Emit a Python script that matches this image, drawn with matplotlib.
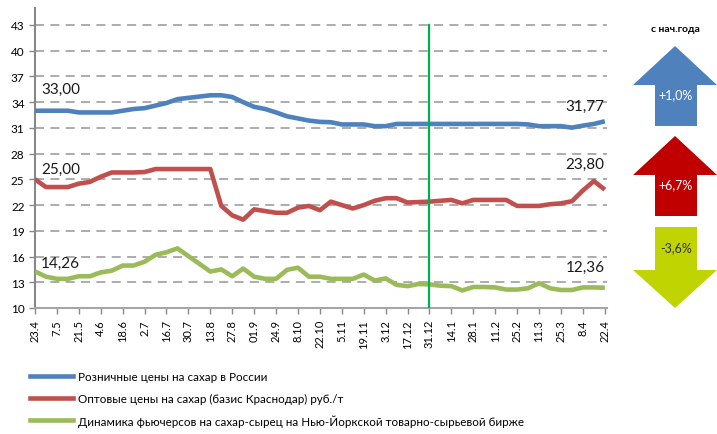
#=========================================================================
# plot.py
#=========================================================================
# Sugar prices: retail, wholesale and NY raw sugar futures.

import matplotlib
matplotlib.use('Agg')
import matplotlib.pyplot as plt
from matplotlib.patches import Polygon
from matplotlib.lines import Line2D
import numpy as np

#-------------------------------------------------------------------------
# Data
#-------------------------------------------------------------------------

tick_labels = ['23.4', '7.5', '21.5', '4.6', '18.6', '2.7', '16.7', '30.7',
               '13.8', '27.8', '01.9', '24.9', '8.10', '22.10', '5.11',
               '19.11', '3.12', '17.12', '31.12', '14.1', '28.1', '11.2',
               '25.2', '11.3', '25.3', '8.4', '22.4']

retail = [33.0, 33.0, 33.0, 33.0, 32.8, 32.8, 32.8, 32.8, 33.0, 33.2,
          33.3, 33.6, 33.9, 34.35, 34.5, 34.65, 34.8, 34.8, 34.6, 34.0,
          33.45, 33.2, 32.8, 32.35, 32.1, 31.85, 31.7, 31.66, 31.4, 31.4,
          31.4, 31.2, 31.2, 31.46, 31.46, 31.46, 31.46, 31.46, 31.46, 31.46,
          31.46, 31.46, 31.46, 31.46, 31.46, 31.4, 31.2, 31.2, 31.2, 31.03,
          31.26, 31.46, 31.77]

wholesale = [25.0, 24.1, 24.1, 24.1, 24.5, 24.7, 25.3, 25.8, 25.8, 25.8,
             25.85, 26.2, 26.2, 26.2, 26.2, 26.2, 26.2, 21.9, 20.8, 20.3,
             21.5, 21.3, 21.1, 21.1, 21.7, 21.9, 21.4, 22.4, 22.0, 21.6,
             22.0, 22.5, 22.8, 22.8, 22.3, 22.35, 22.4, 22.5, 22.6, 22.2,
             22.6, 22.6, 22.6, 22.6, 21.9, 21.9, 21.9, 22.1, 22.2, 22.45,
             23.7, 24.8, 23.80]

futures = [14.26, 13.65, 13.4, 13.4, 13.7, 13.7, 14.15, 14.35, 14.95, 14.95,
           15.4, 16.2, 16.5, 16.95, 16.05, 15.15, 14.25, 14.5, 13.7, 14.6,
           13.65, 13.4, 13.4, 14.45, 14.7, 13.65, 13.65, 13.4, 13.4, 13.4,
           13.9, 13.2, 13.45, 12.7, 12.55, 12.8, 12.75, 12.6, 12.55, 12.05,
           12.45, 12.45, 12.4, 12.15, 12.15, 12.3, 12.9, 12.3, 12.1, 12.1,
           12.4, 12.4, 12.36]

series_names = ['Розничные цены на сахар в России',
                'Оптовые цены на сахар (базис Краснодар) руб./т',
                'Динамика фьючерсов на сахар-сырец на Нью-Йоркской товарно-сырьевой бирже']
series_colors = ['#4F81BD', '#C0504D', '#9BBB59']

ytd_labels = ['+1,0%', '+6,7%', '-3,6%']
ytd_colors = ['#4F81BD', '#C00000', '#BFD400']
ytd_up     = [True, True, False]

#-------------------------------------------------------------------------
# Configure matplotlib
#-------------------------------------------------------------------------

plt.rcParams['font.family'] = ['Lato', 'DejaVu Sans']
plt.rcParams['font.size']   = 9

fig = plt.figure(figsize=(7.17, 4.35), dpi=100)
ax  = fig.add_axes([35/717, 1-309/435, (607-35)/717, (309-8.8)/435])

#-------------------------------------------------------------------------
# Lines
#-------------------------------------------------------------------------

x = np.arange(len(retail))
for vals, col in zip([retail, wholesale, futures], series_colors):
  ax.plot(x, vals, color=col, lw=3.3, solid_capstyle='butt', zorder=3)

# vertical marker at 31.12
ax.axvline(2*tick_labels.index('31.12'), ymax=(43-10)/(45-10),
           color='#00B050', lw=1.6, zorder=4)

# end labels
def lab(i, v, dx, dy):
  ax.annotate(('%.2f' % v).replace('.', ','), (i, v), xytext=(dx, dy),
              textcoords='offset pixels', ha='center', va='center',
              fontsize=11, color='#1a1a1a')

lab(0, retail[0], 26, 22)
lab(0, wholesale[0], 26, 10)
lab(0, futures[0], 25, 9)
lab(len(x)-1, retail[-1], -20, 15)
lab(len(x)-1, wholesale[-1], -20, 26)
lab(len(x)-1, futures[-1], -20, 21)

#-------------------------------------------------------------------------
# Axes styling
#-------------------------------------------------------------------------

ax.set_xlim(0, len(x)-1+0.2)
ax.set_ylim(10, 45)
ax.set_yticks(np.arange(10, 44, 3))
ax.set_xticks(np.arange(0, len(x), 2))
ax.set_xticklabels(tick_labels, rotation=90, fontsize=8)
ax.tick_params(axis='y', labelsize=8.5, length=4, color='#888888', width=1)
ax.tick_params(axis='x', length=4, color='#888888', width=1, pad=4)

for yv in np.arange(13, 44, 3):
  ax.axhline(yv, color='#A6A6A6', lw=1.3, dashes=(5, 3.5), zorder=1)

ax.spines['right'].set_visible(False)
ax.spines['top'].set_visible(False)
ax.spines['left'].set_color('#888888')
ax.spines['bottom'].set_color('#A6A6A6')
ax.spines['left'].set_linewidth(1.5)
ax.spines['bottom'].set_linewidth(1.5)

#-------------------------------------------------------------------------
# Legend
#-------------------------------------------------------------------------

handles = [Line2D([], [], color=c, lw=3.3) for c in series_colors]
fig.legend(handles, series_names, loc='upper left',
           bbox_to_anchor=(19/717, 1-362/435), frameon=False, fontsize=8.4,
           handlelength=3.75, handletextpad=0.43, labelspacing=0.88)

#-------------------------------------------------------------------------
# Year-to-date arrows (pixel overlay)
#-------------------------------------------------------------------------

ov = fig.add_axes([0, 0, 1, 1])
ov.set_xlim(0, 717)
ov.set_ylim(435, 0)
ov.axis('off')

ov.text(675, 29, 'с нач.года', ha='center', va='center', fontsize=7.5,
        fontweight='bold', color='#000000')

arrow_tops = [47, 137, 228]
for top, lbl, col, up in zip(arrow_tops, ytd_labels, ytd_colors, ytd_up):
  if up:
    pts = [(675, top), (717, top+39), (697, top+39), (697, top+80),
           (655, top+80), (655, top+39), (633, top+39)]
    ty = top + 48
    tc = 'white'
  else:
    pts = [(655, top), (697, top), (697, top+43), (717, top+43),
           (675, top+81), (633, top+43), (655, top+43)]
    ty = top + 20
    tc = '#333333'
  ov.add_patch(Polygon(pts, closed=True, facecolor=col, edgecolor='none'))
  ov.text(676, ty, lbl, ha='center', va='center', fontsize=9, color=tc)

plt.savefig('out.png', dpi=100)
